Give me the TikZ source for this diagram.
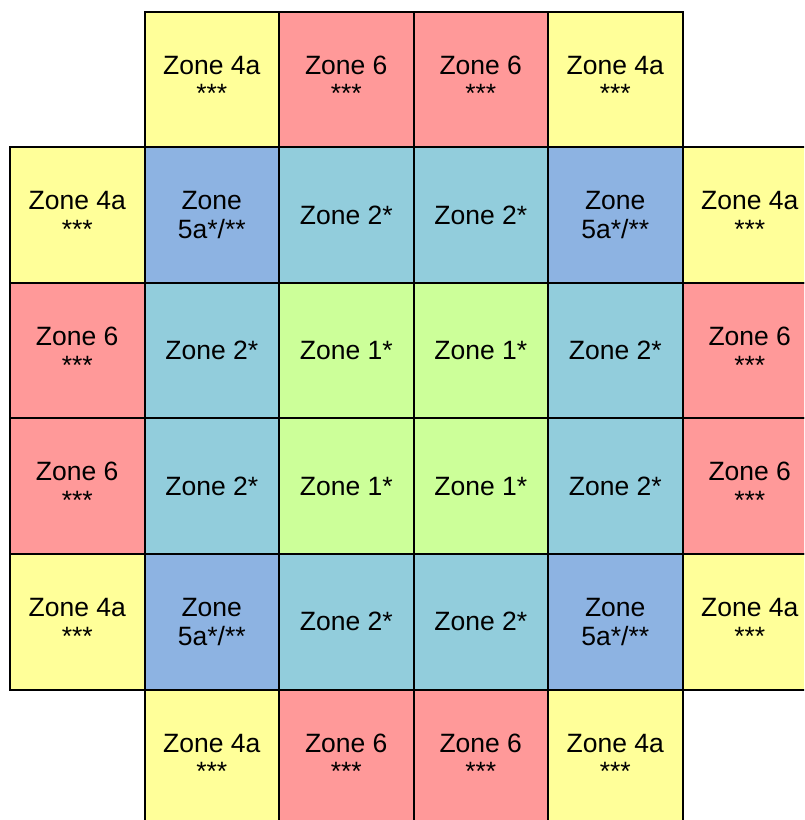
\documentclass[tikz,border=0pt]{standalone}
\usepackage{fontspec}
\setmainfont{Liberation Sans}
\definecolor{zyellow}{RGB}{255,255,153}
\definecolor{zred}{RGB}{255,153,153}
\definecolor{zblue}{RGB}{141,179,226}
\definecolor{zteal}{RGB}{146,205,220}
\definecolor{zgreen}{RGB}{204,255,153}
\begin{document}
\begin{tikzpicture}[x=1pt,y=-1pt,
  cell/.style={draw=black,line width=2pt,minimum width=134.5pt,minimum height=135.6pt,
    inner sep=0pt,align=center,font=\fontsize{26.5}{28.8}\selectfont,anchor=center},
  zy/.style={cell,fill=zyellow},
  zr/.style={cell,fill=zred},
  zb/.style={cell,fill=zblue},
  zt/.style={cell,fill=zteal},
  zg/.style={cell,fill=zgreen}]
\useasboundingbox (0,0) rectangle (804,820);
\clip (0,0) rectangle (804,820);
% row 0
\node[zy] (r0c1) at (211.75,79.3) {Zone 4a\\***};
\node[zr] (r0c2) at (346.25,79.3) {Zone 6\\***};
\node[zr] (r0c3) at (480.75,79.3) {Zone 6\\***};
\node[zy] (r0c4) at (615.25,79.3) {Zone 4a\\***};
% row 1
\node[zy] (r1c0) at (77.25,214.9) {Zone 4a\\***};
\node[zb] (r1c1) at (211.75,214.9) {Zone\\5a*/**};
\node[zt] (r1c2) at (346.25,214.9) {Zone 2*};
\node[zt] (r1c3) at (480.75,214.9) {Zone 2*};
\node[zb] (r1c4) at (615.25,214.9) {Zone\\5a*/**};
\node[zy] (r1c5) at (749.75,214.9) {Zone 4a\\***};
% row 2
\node[zr] (r2c0) at (77.25,350.5) {Zone 6\\***};
\node[zt] (r2c1) at (211.75,350.5) {Zone 2*};
\node[zg] (r2c2) at (346.25,350.5) {Zone 1*};
\node[zg] (r2c3) at (480.75,350.5) {Zone 1*};
\node[zt] (r2c4) at (615.25,350.5) {Zone 2*};
\node[zr] (r2c5) at (749.75,350.5) {Zone 6\\***};
% row 3
\node[zr] (r3c0) at (77.25,486.1) {Zone 6\\***};
\node[zt] (r3c1) at (211.75,486.1) {Zone 2*};
\node[zg] (r3c2) at (346.25,486.1) {Zone 1*};
\node[zg] (r3c3) at (480.75,486.1) {Zone 1*};
\node[zt] (r3c4) at (615.25,486.1) {Zone 2*};
\node[zr] (r3c5) at (749.75,486.1) {Zone 6\\***};
% row 4
\node[zy] (r4c0) at (77.25,621.7) {Zone 4a\\***};
\node[zb] (r4c1) at (211.75,621.7) {Zone\\5a*/**};
\node[zt] (r4c2) at (346.25,621.7) {Zone 2*};
\node[zt] (r4c3) at (480.75,621.7) {Zone 2*};
\node[zb] (r4c4) at (615.25,621.7) {Zone\\5a*/**};
\node[zy] (r4c5) at (749.75,621.7) {Zone 4a\\***};
% row 5
\node[zy] (r5c1) at (211.75,757.3) {Zone 4a\\***};
\node[zr] (r5c2) at (346.25,757.3) {Zone 6\\***};
\node[zr] (r5c3) at (480.75,757.3) {Zone 6\\***};
\node[zy] (r5c4) at (615.25,757.3) {Zone 4a\\***};
\end{tikzpicture}
\end{document}
